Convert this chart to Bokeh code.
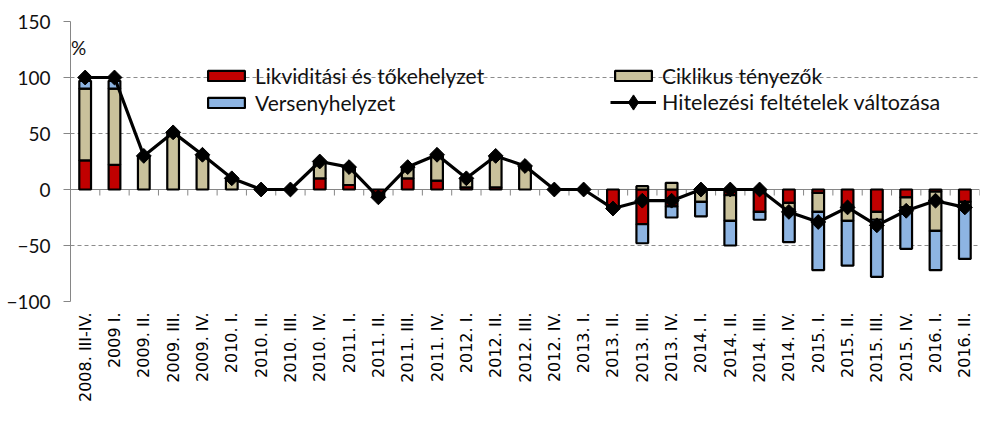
import math
import numpy as np
from bokeh.plotting import figure
from bokeh.models import (ColumnDataSource, Legend, LegendItem, FixedTicker, Span,
                          Label, Range1d)
from bokeh.embed import file_html
from bokeh.resources import INLINE

categories = ["2008. III-IV.", "2009 I.", "2009. II.", "2009. III.", "2009. IV.",
              "2010. I.", "2010. II.", "2010. III.", "2010. IV.",
              "2011. I.", "2011. II.", "2011. III.", "2011. IV.",
              "2012. I.", "2012. II.", "2012. III.", "2012. IV.",
              "2013. I.", "2013. II.", "2013. III.", "2013. IV.",
              "2014. I.", "2014. II.", "2014. III.", "2014. IV.",
              "2015. I.", "2015. II.", "2015. III.", "2015. IV.",
              "2016. I.", "2016. II."]

likviditasi = [26, 22, 0, 0, 0, 0, 0, 0, 10, 4, -3, 10, 8, 2, 2, 0, 0, 0,
               -17, -31, -15, 0, -5, -20, -12, -3, -14, -20, -7, -2, -11]
ciklikus = [64, 68, 30, 50, 30, 10, 0, 0, 14, 16, -4, 10, 22, 8, 28, 21, 0, 0,
            0, 3, 6, -11, -23, 0, -6, -17, -14, -7, -9, -35, -4]
verseny = [7, 7, 0, 0, 0, 0, 0, 0, 0, 0, 0, 0, 0, 0, 0, 0, 0, 0,
           0, -17, -10, -13, -22, -7, -29, -52, -40, -51, -37, -35, -47]
hitelezesi = [100, 100, 30, 51, 31, 10, 0, 0, 25, 20, -7, 20, 31, 10, 30, 21, 0, 0,
              -17, -10, -10, 0, 0, 0, -20, -29, -16, -32, -19, -10, -16]

y_ticks = [-100, -50, 0, 50, 100, 150]

series_names = ["Likviditási és tőkehelyzet", "Ciklikus tényezők", "Versenyhelyzet"]
series_vals = [likviditasi, ciklikus, verseny]
series_colors = ["#C00000", "#C9C19B", "#8DB4E2"]
line_name = "Hitelezési feltételek változása"

n = len(categories)
xs = np.arange(n)
YMIN, YMAX = -100, 150
FRAME_H = 280

p = figure(frame_width=909, frame_height=FRAME_H, output_backend="svg", toolbar_location=None,
           x_range=Range1d(-0.5, n - 0.5), y_range=Range1d(YMIN, YMAX),
           min_border=0, min_border_left=70, min_border_right=3,
           min_border_top=21, min_border_bottom=110)
p.outline_line_color = None
p.background_fill_color = "white"
p.border_fill_color = "white"

# grid
p.xgrid.visible = False
p.ygrid.ticker = FixedTicker(ticks=[t for t in y_ticks if t != 0])
p.ygrid.grid_line_color = "#8C8C8C"
p.ygrid.grid_line_dash = "4 3"
p.ygrid.grid_line_width = 1

# zero (category) axis line with tick marks between categories
p.add_layout(Span(location=0, dimension="width", line_color="#868686", line_width=1,
                  level="underlay"))
tick_len = 6 * (YMAX - YMIN) / FRAME_H
bx = np.arange(1, n + 1) - 0.5
p.segment(x0=bx, y0=np.zeros(len(bx)), x1=bx, y1=-tick_len * np.ones(len(bx)),
          line_color="#868686", line_width=1, level="underlay")

# stacked bars
pos = np.zeros(n)
neg = np.zeros(n)
bar_renderers = []
for name, vals, color in zip(series_names, series_vals, series_colors):
    v = np.array(vals, dtype=float)
    bottom = np.where(v >= 0, pos, neg)
    top = bottom + v
    pos = np.where(v >= 0, top, pos)
    neg = np.where(v < 0, top, neg)
    m = v != 0
    src = ColumnDataSource(dict(x=xs[m], bottom=bottom[m], top=top[m]))
    r = p.vbar(x="x", bottom="bottom", top="top", width=0.4, source=src,
               fill_color=color, line_color="black", line_width=2.2)
    bar_renderers.append(r)

line_src = ColumnDataSource(dict(x=xs, y=hitelezesi))
lr = p.line(x="x", y="y", source=line_src, line_color="black", line_width=3.2)
# diamond used for the legend swatch (hidden under the rotated squares)
dr = p.scatter(x="x", y="y", source=line_src, marker="diamond", size=13,
               fill_color="black", line_color="black")
sr = p.scatter(x="x", y="y", source=line_src, marker="square", angle=math.pi / 4,
               size=10.5, fill_color="black", line_color="black")

# axes
ya = p.yaxis[0]
ya.ticker = FixedTicker(ticks=y_ticks)
ya.axis_line_color = "#868686"
ya.major_tick_line_color = "#868686"
ya.major_tick_out = 7
ya.major_tick_in = 0
ya.minor_tick_line_color = None
ya.major_label_standoff = 13
ya.major_label_text_font = "Lato"
ya.major_label_text_font_size = "19px"
ya.major_label_text_color = "#111111"

xa = p.xaxis[0]
xa.ticker = FixedTicker(ticks=list(range(n)))
xa.major_label_overrides = {i: c for i, c in enumerate(categories)}
xa.major_label_orientation = math.pi / 2
xa.axis_line_color = None
xa.major_tick_line_color = None
xa.minor_tick_line_color = None
xa.major_tick_out = 0
xa.major_tick_in = 0
xa.major_label_standoff = 11
xa.major_label_text_font = "DejaVu Sans"
xa.major_label_text_font_size = "16px"
xa.major_label_text_color = "#000000"

p.add_layout(Label(x=-0.5, y=127, text="%", text_align="center", text_baseline="middle",
                   x_offset=8, text_font="Lato", text_font_size="19px",
                   text_color="#111111"))

# legends (transparent, two columns)
def add_legend(label, renderers, loc, gh=13, fs="21px"):
    lg = Legend(items=[LegendItem(label=label, renderers=renderers)], location=loc,
                orientation="horizontal", padding=0, margin=0, spacing=0,
                glyph_width=46, glyph_height=gh, label_standoff=6, label_height=13,
                label_text_font="Lato", label_text_font_size=fs,
                label_text_color="#111111", label_text_baseline="middle",
                background_fill_alpha=0, border_line_alpha=0)
    p.add_layout(lg)

add_legend(series_names[0], [bar_renderers[0]], (133, 213))
add_legend(series_names[1], [bar_renderers[1]], (540, 213))
add_legend(series_names[2], [bar_renderers[2]], (133, 186))
add_legend(line_name, [lr, dr], (540, 180), gh=38, fs="21.5px")

open("out.html", "w").write(file_html(p, INLINE))
